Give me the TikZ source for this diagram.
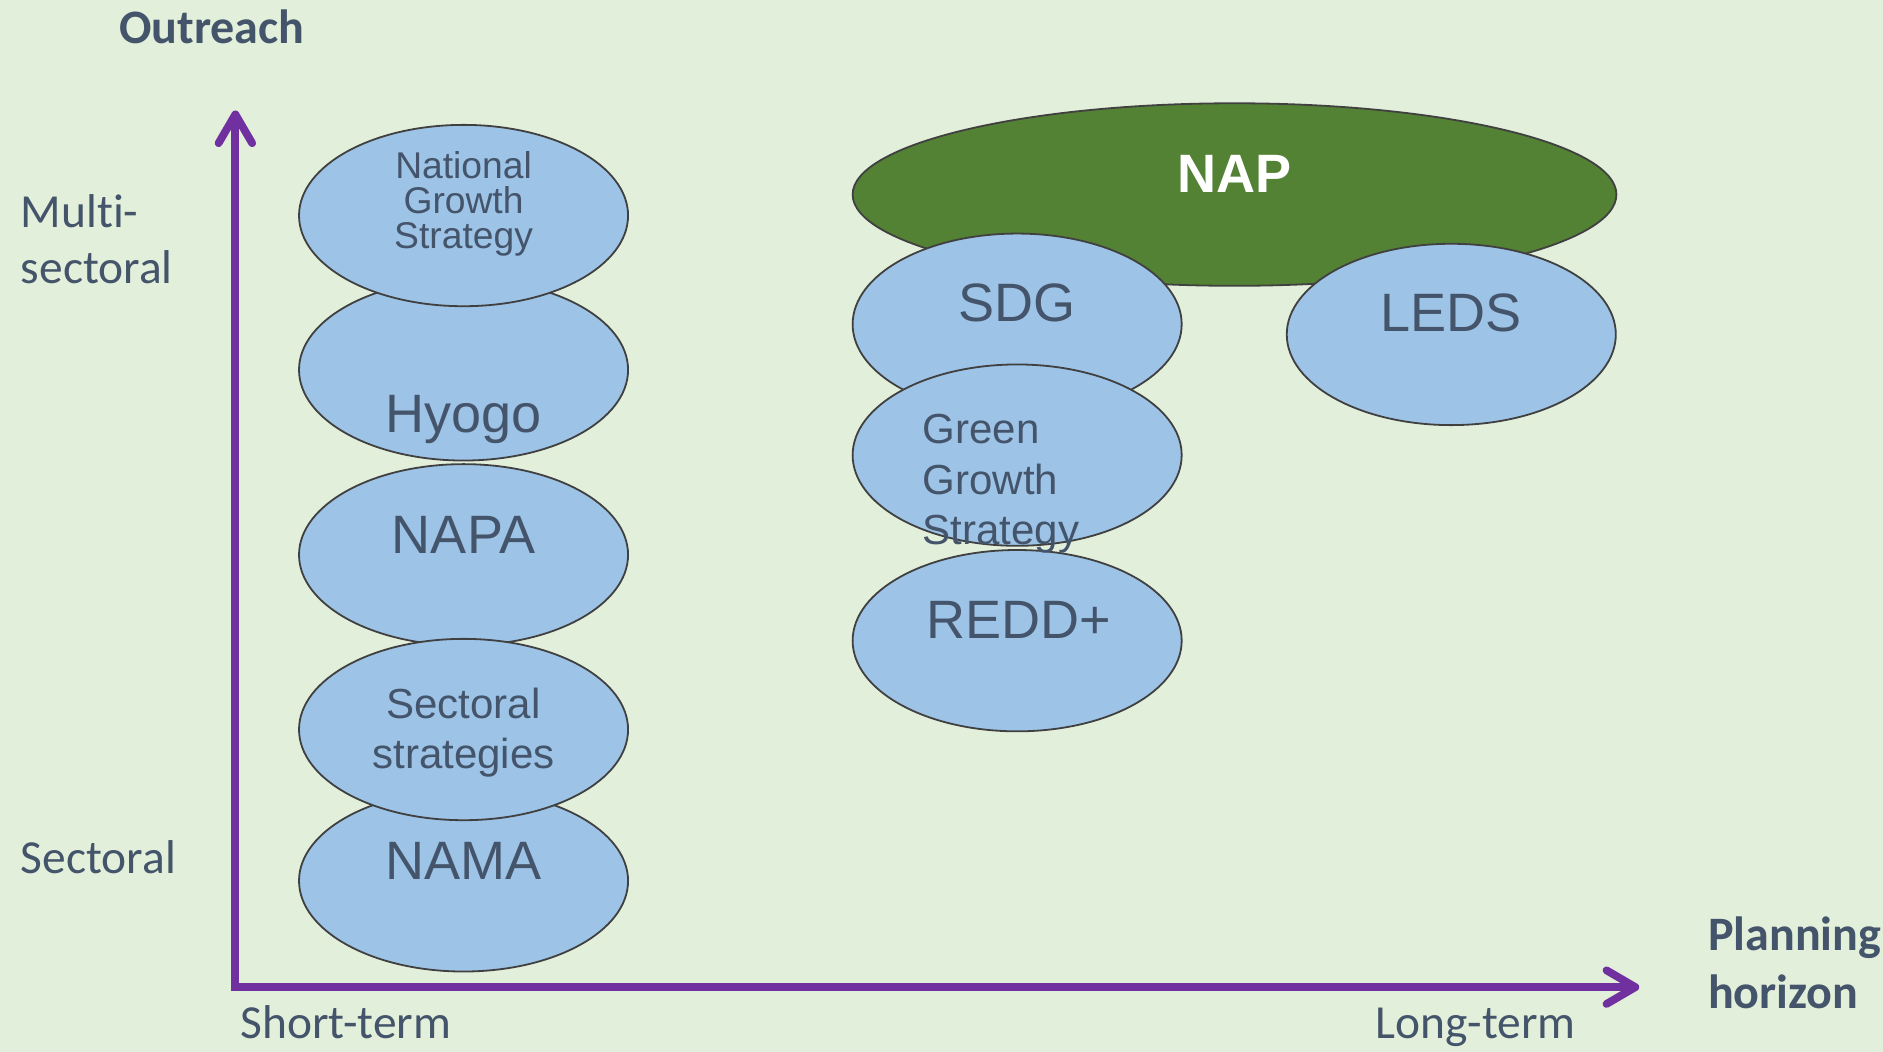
\documentclass[tikz,border=0pt]{standalone}
\usepackage{fontspec}
\setmainfont{Liberation Sans}
\newfontfamily\calfont[Ligatures=NoCommon]{Carlito}
\usetikzlibrary{shapes.geometric,arrows.meta}
\definecolor{bgc}{HTML}{E2EFDA}
\definecolor{blobc}{HTML}{9DC3E6}
\definecolor{napc}{HTML}{548235}
\definecolor{txtc}{HTML}{44546A}
\definecolor{axc}{HTML}{7030A0}
\definecolor{edgec}{HTML}{404040}
\begin{document}
\begin{tikzpicture}[x=0.5pt,y=-0.5pt,
  blob/.style={ellipse, draw=edgec, line width=0.75pt, fill=blobc,
    minimum width=137pt, minimum height=75.5pt, inner sep=0pt},
  napblob/.style={blob, fill=napc, minimum width=318pt, minimum height=76pt},
  big/.style={font=\fontsize{22.5}{24}\selectfont, text=txtc, inner sep=0pt, anchor=base},
  smalltxt/.style={font=\fontsize{15.5}{14.5}\selectfont, text=txtc, inner sep=0pt, align=center},
  midtxt/.style={font=\fontsize{17.5}{20.5}\selectfont, text=txtc, inner sep=0pt, align=center},
  ggstxt/.style={font=\fontsize{17.5}{21}\selectfont, text=txtc, inner sep=0pt, align=left, anchor=west},
  axl/.style={font=\calfont\fontsize{19.75}{23.5}\selectfont, text=txtc, inner sep=0pt},
  axlb/.style={font=\calfont\bfseries\fontsize{20}{24}\selectfont, text=txtc, inner sep=0pt},
  axis/.style={draw=axc, line width=3.25pt,
    {Straight Barb[length=12pt,width=14pt,round]}-{Straight Barb[length=12pt,width=14pt,round]}}
]
\path[fill=bgc, use as bounding box] (0,0) rectangle (1568,876);

% axes
\coordinate (O) at (196,822);
\coordinate (ytip) at (196,92);
\coordinate (xtip) at (1365,822);
\draw[axis] (ytip) -- (O) -- (xtip);

% left column
\node[blob] (hyogo) at (386,308) {};
\node[big] (hyogo-t) at (386,360.5) {Hyogo};
\node[blob] (ngs) at (386,179.5) {};
\node[smalltxt] (ngs-t) at (386,170) {National\\Growth\\Strategy};
\node[blob] (nama) at (386,733.5) {};
\node[big] (nama-t) at (386,732) {NAMA};
\node[blob] (napa) at (386,462) {};
\node[big] (napa-t) at (386,461) {NAPA};
\node[blob] (sect) at (386,607.5) {};
\node[midtxt] (sect-t) at (386,610) {Sectoral\\strategies};

% NAP group
\node[napblob] (nap) at (1028,162) {};
\node[big, text=white, font=\bfseries\fontsize{22.5}{24}\selectfont] (nap-t) at (1028,160) {NAP};
\node[blob] (leds) at (1208.5,278.5) {};
\node[big] (leds-t) at (1208.5,276) {LEDS};

% middle column
\node[blob] (redd) at (847,533.5) {};
\node[big] (redd-t) at (848,532) {REDD+};
\node[blob] (sdg) at (847,270) {};
\node[big] (sdg-t) at (847,268) {SDG};
\node[blob] (ggs) at (847,379) {};
\node[ggstxt] (ggs-t) at (768,403) {Green\\Growth\\Strategy};

% axis labels
\node[axlb, anchor=base west] (outreach) at (99,36) {Outreach};
\node[axl, anchor=west, align=left] (multi) at (17,199) {Multi-\\sectoral};
\node[axl, anchor=base west] (sectoral) at (17,727) {Sectoral};
\node[axl, anchor=base west] (short) at (200,865) {Short-term};
\node[axl, anchor=base west] (long) at (1145,865) {Long-term};
\node[axlb, anchor=west, align=left] (plan) at (1422,802) {Planning\\horizon};
\end{tikzpicture}
\end{document}
